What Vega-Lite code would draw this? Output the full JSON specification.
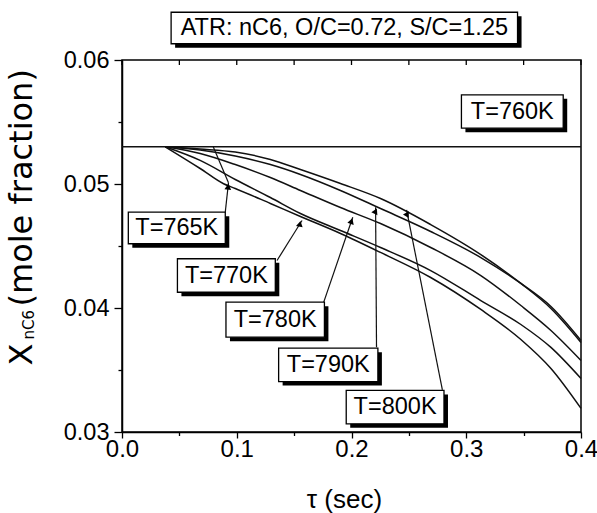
{
  "$schema": "https://vega.github.io/schema/vega-lite/v6.json",
  "autosize": {"type": "none"},
  "padding": {"left": 122, "top": 60, "right": 16, "bottom": 81},
  "width": 459,
  "height": 372,
  "background": "white",
  "config": {
    "view": {"stroke": "black", "strokeWidth": 1.5},
    "font": "Liberation Sans",
    "axis": {"grid": false, "domainColor": "black", "domainWidth": 1.5, "tickColor": "black", "tickWidth": 1.3, "labelColor": "black"}
  },
  "datasets": {
    "curves": [
      {"series": "800K", "tau": 0.0376, "xnc6": 0.053},
      {"series": "800K", "tau": 0.0681, "xnc6": 0.05282},
      {"series": "800K", "tau": 0.0987, "xnc6": 0.05258},
      {"series": "800K", "tau": 0.1293, "xnc6": 0.05198},
      {"series": "800K", "tau": 0.1555, "xnc6": 0.05117},
      {"series": "800K", "tau": 0.1904, "xnc6": 0.05004},
      {"series": "800K", "tau": 0.2253, "xnc6": 0.04883},
      {"series": "800K", "tau": 0.269, "xnc6": 0.04673},
      {"series": "800K", "tau": 0.3127, "xnc6": 0.04431},
      {"series": "800K", "tau": 0.3476, "xnc6": 0.04198},
      {"series": "800K", "tau": 0.3738, "xnc6": 0.03996},
      {"series": "800K", "tau": 0.4, "xnc6": 0.03722},
      {"series": "790K", "tau": 0.0376, "xnc6": 0.053},
      {"series": "790K", "tau": 0.0681, "xnc6": 0.05274},
      {"series": "790K", "tau": 0.0987, "xnc6": 0.05226},
      {"series": "790K", "tau": 0.1293, "xnc6": 0.05157},
      {"series": "790K", "tau": 0.1555, "xnc6": 0.05077},
      {"series": "790K", "tau": 0.1904, "xnc6": 0.04948},
      {"series": "790K", "tau": 0.2253, "xnc6": 0.04802},
      {"series": "790K", "tau": 0.269, "xnc6": 0.04617},
      {"series": "790K", "tau": 0.3127, "xnc6": 0.04407},
      {"series": "790K", "tau": 0.3476, "xnc6": 0.04198},
      {"series": "790K", "tau": 0.3738, "xnc6": 0.04012},
      {"series": "790K", "tau": 0.4, "xnc6": 0.03738},
      {"series": "780K", "tau": 0.0376, "xnc6": 0.053},
      {"series": "780K", "tau": 0.0681, "xnc6": 0.05246},
      {"series": "780K", "tau": 0.0987, "xnc6": 0.05157},
      {"series": "780K", "tau": 0.1293, "xnc6": 0.05052},
      {"series": "780K", "tau": 0.1555, "xnc6": 0.04948},
      {"series": "780K", "tau": 0.1904, "xnc6": 0.0481},
      {"series": "780K", "tau": 0.2253, "xnc6": 0.04681},
      {"series": "780K", "tau": 0.269, "xnc6": 0.04488},
      {"series": "780K", "tau": 0.3127, "xnc6": 0.04262},
      {"series": "780K", "tau": 0.3476, "xnc6": 0.0402},
      {"series": "780K", "tau": 0.3738, "xnc6": 0.03819},
      {"series": "780K", "tau": 0.4, "xnc6": 0.03577},
      {"series": "770K", "tau": 0.0376, "xnc6": 0.053},
      {"series": "770K", "tau": 0.0681, "xnc6": 0.0519},
      {"series": "770K", "tau": 0.0987, "xnc6": 0.05036},
      {"series": "770K", "tau": 0.1293, "xnc6": 0.04891},
      {"series": "770K", "tau": 0.1555, "xnc6": 0.04762},
      {"series": "770K", "tau": 0.1904, "xnc6": 0.04625},
      {"series": "770K", "tau": 0.2253, "xnc6": 0.04488},
      {"series": "770K", "tau": 0.269, "xnc6": 0.04302},
      {"series": "770K", "tau": 0.3127, "xnc6": 0.0406},
      {"series": "770K", "tau": 0.3476, "xnc6": 0.03867},
      {"series": "770K", "tau": 0.3738, "xnc6": 0.03682},
      {"series": "770K", "tau": 0.4, "xnc6": 0.03431},
      {"series": "765K", "tau": 0.0376, "xnc6": 0.053},
      {"series": "765K", "tau": 0.0681, "xnc6": 0.05125},
      {"series": "765K", "tau": 0.0885, "xnc6": 0.05002},
      {"series": "765K", "tau": 0.0987, "xnc6": 0.04964},
      {"series": "765K", "tau": 0.1293, "xnc6": 0.04843},
      {"series": "765K", "tau": 0.1555, "xnc6": 0.04738},
      {"series": "765K", "tau": 0.1904, "xnc6": 0.04601},
      {"series": "765K", "tau": 0.2253, "xnc6": 0.04448},
      {"series": "765K", "tau": 0.269, "xnc6": 0.04246},
      {"series": "765K", "tau": 0.3127, "xnc6": 0.03988},
      {"series": "765K", "tau": 0.3476, "xnc6": 0.03746},
      {"series": "765K", "tau": 0.3738, "xnc6": 0.03512},
      {"series": "765K", "tau": 0.4, "xnc6": 0.0319}
    ],
    "boxes": [
      {"label": "T=760K", "bx1": 0.2958, "bx2": 0.3845, "by1": 0.0545, "by2": 0.05719, "tx": 0.34015, "ty": 0.055845},
      {"label": "T=765K", "bx1": 0.0055, "bx2": 0.09, "by1": 0.04518, "by2": 0.04773, "tx": 0.04775, "ty": 0.046455},
      {"label": "T=770K", "bx1": 0.0483, "bx2": 0.1336, "by1": 0.04127, "by2": 0.04397, "tx": 0.09095, "ty": 0.04262},
      {"label": "T=780K", "bx1": 0.0906, "bx2": 0.1764, "by1": 0.03765, "by2": 0.04047, "tx": 0.1335, "ty": 0.03906},
      {"label": "T=790K", "bx1": 0.1365, "bx2": 0.223, "by1": 0.03407, "by2": 0.03676, "tx": 0.17975, "ty": 0.035415},
      {"label": "T=800K", "bx1": 0.1954, "bx2": 0.2806, "by1": 0.03066, "by2": 0.03335, "tx": 0.238, "ty": 0.032005},
      {"label": "ATR: nC6, O/C=0.72, S/C=1.25", "bx1": 0.0428, "bx2": 0.3447, "by1": 0.06131, "by2": 0.06385, "tx": 0.19375, "ty": 0.06258}
    ],
    "arrows": [
      {"label": "T=765K", "kind": "arrow", "x0": 0.09, "y0": 0.04773, "x1": 0.0928, "y1": 0.0501, "hx": 0.09245, "hy": 0.04978},
      {"label": "T=765K", "kind": "line", "x0": 0.0928, "y0": 0.0501, "x1": 0.0795, "y1": 0.053, "hx": 0.0795, "hy": 0.053},
      {"label": "T=770K", "kind": "arrow", "x0": 0.1351, "y0": 0.04383, "x1": 0.1569, "y1": 0.04706, "hx": 0.15505, "hy": 0.04679},
      {"label": "T=780K", "kind": "arrow", "x0": 0.1758, "y0": 0.04047, "x1": 0.2011, "y1": 0.04732, "hx": 0.19997, "hy": 0.04701},
      {"label": "T=790K", "kind": "arrow", "x0": 0.2218, "y0": 0.03684, "x1": 0.221, "y1": 0.04813, "hx": 0.221, "hy": 0.04781},
      {"label": "T=800K", "kind": "arrow", "x0": 0.2792, "y0": 0.0334, "x1": 0.248, "y1": 0.04792, "hx": 0.24868, "hy": 0.0476}
    ],
    "topticks": [
      {"v": 0}, {"v": 0.05}, {"v": 0.1}, {"v": 0.15}, {"v": 0.2}, {"v": 0.25}, {"v": 0.3}, {"v": 0.35}, {"v": 0.4}
    ]
  },
  "layer": [
    {
      "data": {"name": "curves"},
      "mark": {"type": "line", "interpolate": "monotone", "color": "#111", "strokeWidth": 1.5},
      "encoding": {
        "x": {"field": "tau", "type": "quantitative", "scale": {"domain": [0, 0.4], "nice": false, "zero": false},
          "axis": {"orient": "bottom", "values": [0, 0.05, 0.1, 0.15, 0.2, 0.25, 0.3, 0.35, 0.4],
            "labelExpr": "round(datum.value*20)%2==0 ? format(datum.value,'.1f') : ''",
            "tickSize": {"condition": {"test": "round(datum.value*20)%2==1", "value": 3.5}, "value": 6},
            "labelFont": "Liberation Sans", "labelFontSize": 24, "labelPadding": -1, "labelFlush": false, "title": null}},
        "y": {"field": "xnc6", "type": "quantitative", "scale": {"domain": [0.03, 0.06], "nice": false, "zero": false},
          "axis": {"orient": "left", "values": [0.03, 0.035, 0.04, 0.045, 0.05, 0.055, 0.06],
            "labelExpr": "round(datum.value*200)%2==0 ? format(datum.value,'.2f') : ''",
            "tickSize": {"condition": {"test": "round(datum.value*200)%2==1", "value": 4}, "value": 8},
            "labelFont": "Liberation Sans", "labelFontSize": 23.5, "labelPadding": 5, "labelFlush": false, "title": null}},
        "detail": {"field": "series", "type": "nominal"}
      }
    },
    {
      "data": {"values": [{}]},
      "mark": {"type": "rule", "color": "#111", "strokeWidth": 1.5},
      "encoding": {"y": {"datum": 0.053, "type": "quantitative", "scale": {"domain": [0.03, 0.06], "nice": false, "zero": false}, "axis": null}}
    },
    {
      "data": {"name": "topticks"},
      "mark": {"type": "tick", "orient": "vertical", "size": 5, "thickness": 1.3, "color": "black", "yOffset": 2.5, "opacity": 1},
      "encoding": {
        "x": {"field": "v", "type": "quantitative", "scale": {"domain": [0, 0.4], "nice": false, "zero": false}, "axis": null},
        "y": {"datum": 0.06, "type": "quantitative", "scale": {"domain": [0.03, 0.06], "nice": false, "zero": false}, "axis": null}
      }
    },
    {
      "data": {"name": "arrows"},
      "mark": {"type": "rule", "color": "#111", "strokeWidth": 1.2},
      "encoding": {
        "x": {"field": "x0", "type": "quantitative", "scale": {"domain": [0, 0.4], "nice": false, "zero": false}, "axis": null},
        "y": {"field": "y0", "type": "quantitative", "scale": {"domain": [0.03, 0.06], "nice": false, "zero": false}, "axis": null},
        "x2": {"field": "x1"},
        "y2": {"field": "y1"}
      }
    },
    {
      "data": {"name": "boxes"},
      "mark": {"type": "rect", "fill": "black", "xOffset": 4, "x2Offset": 4, "yOffset": 4, "y2Offset": 4},
      "encoding": {
        "x": {"field": "bx1", "type": "quantitative", "scale": {"domain": [0, 0.4], "nice": false, "zero": false}, "axis": null},
        "x2": {"field": "bx2"},
        "y": {"field": "by1", "type": "quantitative", "scale": {"domain": [0.03, 0.06], "nice": false, "zero": false}, "axis": null},
        "y2": {"field": "by2"}
      }
    },
    {
      "data": {"name": "boxes"},
      "mark": {"type": "rect", "fill": "white", "stroke": "black", "strokeWidth": 1.3},
      "encoding": {
        "x": {"field": "bx1", "type": "quantitative", "scale": {"domain": [0, 0.4], "nice": false, "zero": false}, "axis": null},
        "x2": {"field": "bx2"},
        "y": {"field": "by1", "type": "quantitative", "scale": {"domain": [0.03, 0.06], "nice": false, "zero": false}, "axis": null},
        "y2": {"field": "by2"}
      }
    },
    {
      "data": {"name": "boxes"},
      "mark": {"type": "text", "font": "Liberation Sans", "fontSize": 23.5, "color": "black", "align": "center", "baseline": "middle"},
      "encoding": {
        "x": {"field": "tx", "type": "quantitative", "scale": {"domain": [0, 0.4], "nice": false, "zero": false}, "axis": null},
        "y": {"field": "ty", "type": "quantitative", "scale": {"domain": [0.03, 0.06], "nice": false, "zero": false}, "axis": null},
        "text": {"field": "label"}
      }
    },
    {
      "data": {"name": "arrows"},
      "transform": [{"filter": "datum.kind == 'arrow'"}],
      "mark": {"type": "point", "shape": "triangle-up", "filled": true, "color": "black", "size": 45, "opacity": 1},
      "encoding": {
        "x": {"field": "hx", "type": "quantitative", "scale": {"domain": [0, 0.4], "nice": false, "zero": false}, "axis": null},
        "y": {"field": "hy", "type": "quantitative", "scale": {"domain": [0.03, 0.06], "nice": false, "zero": false}, "axis": null},
        "angle": {"field": "label", "type": "nominal", "scale": {"domain": ["T=765K", "T=770K", "T=780K", "T=790K", "T=800K"], "range": [5.8, 32, 18.8, 0, 348.8]}, "legend": null}
      }
    },
    {
      "data": {"values": [{}]},
      "mark": {"type": "text", "text": "τ (sec)", "font": "Liberation Sans", "fontSize": 26, "color": "black", "align": "center", "baseline": "alphabetic"},
      "encoding": {
        "x": {"datum": 0.1939, "type": "quantitative", "scale": {"domain": [0, 0.4], "nice": false, "zero": false}, "axis": null},
        "y": {"datum": 0.02391, "type": "quantitative", "scale": {"domain": [0.03, 0.06], "nice": false, "zero": false}, "axis": null}
      }
    },
    {
      "data": {"values": [{}]},
      "mark": {"type": "text", "text": "X", "font": "DejaVu Sans", "fontSize": 32, "color": "black", "angle": 270, "align": "left", "baseline": "alphabetic"},
      "encoding": {
        "x": {"datum": -0.0786, "type": "quantitative", "scale": {"domain": [0, 0.4], "nice": false, "zero": false}, "axis": null},
        "y": {"datum": 0.03536, "type": "quantitative", "scale": {"domain": [0.03, 0.06], "nice": false, "zero": false}, "axis": null}
      }
    },
    {
      "data": {"values": [{}]},
      "mark": {"type": "text", "text": "nC6", "font": "DejaVu Sans", "fontSize": 15, "color": "black", "angle": 270, "align": "left", "baseline": "alphabetic"},
      "encoding": {
        "x": {"datum": -0.0769, "type": "quantitative", "scale": {"domain": [0, 0.4], "nice": false, "zero": false}, "axis": null},
        "y": {"datum": 0.03746, "type": "quantitative", "scale": {"domain": [0.03, 0.06], "nice": false, "zero": false}, "axis": null}
      }
    },
    {
      "data": {"values": [{}]},
      "mark": {"type": "text", "text": "(mole fraction)", "font": "DejaVu Sans", "fontSize": 32, "color": "black", "angle": 270, "align": "left", "baseline": "alphabetic"},
      "encoding": {
        "x": {"datum": -0.0786, "type": "quantitative", "scale": {"domain": [0, 0.4], "nice": false, "zero": false}, "axis": null},
        "y": {"datum": 0.04012, "type": "quantitative", "scale": {"domain": [0.03, 0.06], "nice": false, "zero": false}, "axis": null}
      }
    }
  ],
  "resolve": {"axis": {"x": "independent", "y": "independent"}}
}
